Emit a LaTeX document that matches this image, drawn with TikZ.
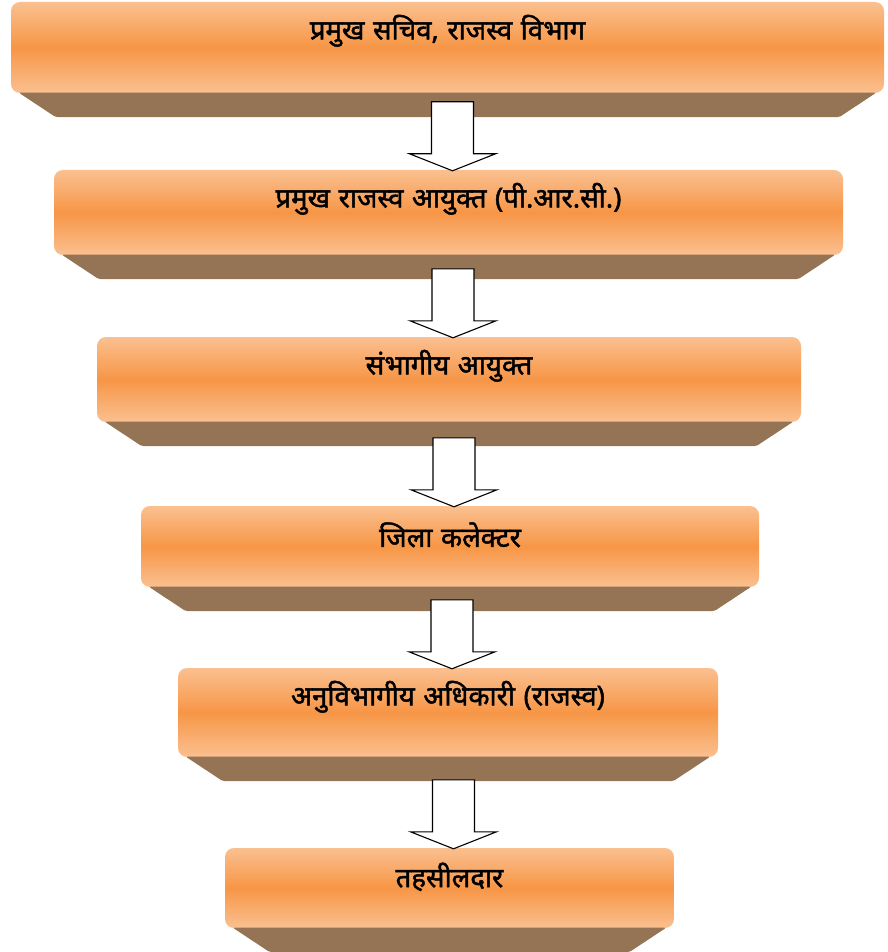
\documentclass[tikz,border=0pt]{standalone}
\usepackage{fontspec}
\newfontfamily\deva[Script=Devanagari, FakeBold=1.6, WordSpace=1.2]{Noto Sans}
\usepackage{tikz}
\usetikzlibrary{calc}
\definecolor{orlight}{HTML}{FAC090}
\definecolor{ormid}{HTML}{F79646}
\definecolor{basebrown}{HTML}{957456}

\tikzset{
  orbox/.style={rectangle, rounded corners=9pt, inner sep=0pt,
    top color=orlight, bottom color=orlight, middle color=ormid},
  orlabel/.style={font=\deva\fontsize{27.5}{32}\selectfont, text=black},
  base/.style={fill=basebrown, rounded corners=2pt},
  blockarrow/.style={draw=black, fill=white, line width=1.1pt, line join=miter}
}

\begin{document}
\begin{tikzpicture}[x=1pt,y=-1pt]
\useasboundingbox (0,0) rectangle (887,952);
% levels, top to bottom
\node[orbox, minimum width=873pt, minimum height=91pt] (b1) at (447.5,47.5) {};
\node[orbox, minimum width=789pt, minimum height=85pt] (b2) at (448.5,212.5) {};
\node[orbox, minimum width=704pt, minimum height=85pt] (b3) at (449,379.5) {};
\node[orbox, minimum width=618pt, minimum height=81pt] (b4) at (450,546.5) {};
\node[orbox, minimum width=540pt, minimum height=89pt] (b5) at (448,712.5) {};
\node[orbox, minimum width=449pt, minimum height=80pt] (b6) at (449.5,888) {};

% bevel under each box
\foreach \b in {b1,b2,b3,b4,b5,b6}
    \fill[base] ([xshift=8pt,yshift=0.5pt]\b.south west) -- ([xshift=-8pt,yshift=0.5pt]\b.south east)
        -- ([xshift=-45pt,yshift=-24pt]\b.south east) -- ([xshift=45pt,yshift=-24pt]\b.south west) -- cycle;

\node[orlabel] (t1) at ([yshift=-29pt]b1.north) {प्रमुख सचिव, राजस्व विभाग};
\node[orlabel] (t2) at ([yshift=-29pt]b2.north) {प्रमुख राजस्व आयुक्त (पी.आर.सी.)};
\node[orlabel] (t3) at ([yshift=-29pt]b3.north) {संभागीय आयुक्त};
\node[orlabel] (t4) at ([yshift=-29pt]b4.north) {जिला कलेक्टर};
\node[orlabel] (t5) at ([yshift=-29pt]b5.north) {अनुविभागीय अधिकारी (राजस्व)};
\node[orlabel] (t6) at ([yshift=-29pt]b6.north) {तहसीलदार};

% arrows between levels
\foreach \u/\v in {b1/b2,b2/b3,b3/b4,b4/b5,b5/b6}
    \draw[blockarrow] ($(\v.north)+(4,1)$) -- ++(-43,-17) -- ++(22,0) -- ++(0,-52)
        -- ++(42,0) -- ++(0,52) -- ++(22,0) -- cycle;
\end{tikzpicture}
\end{document}
